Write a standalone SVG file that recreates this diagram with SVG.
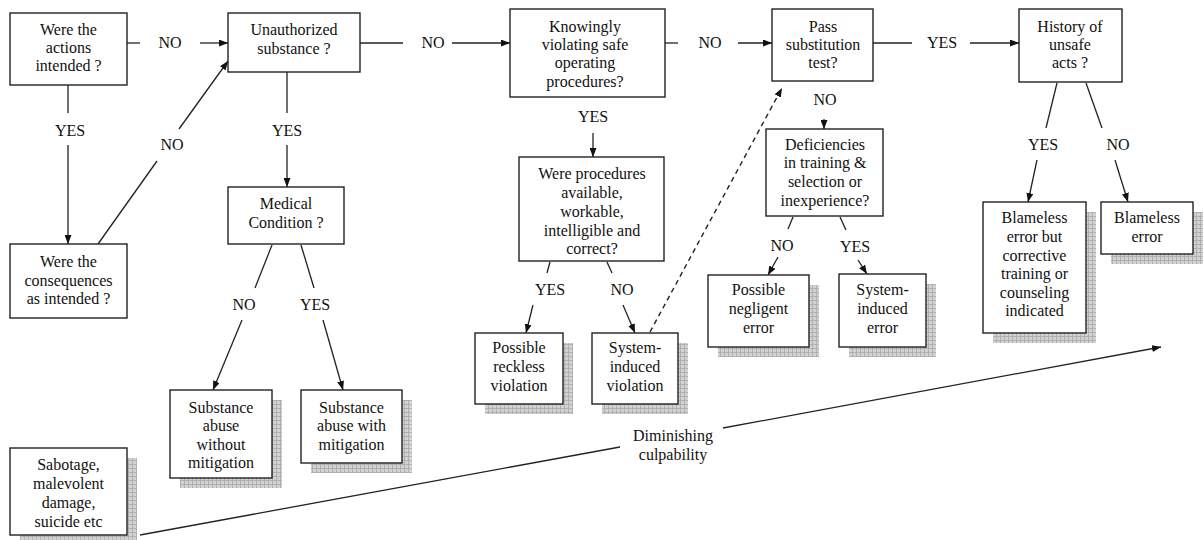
<svg xmlns="http://www.w3.org/2000/svg" width="1203" height="540" viewBox="0 0 1203 540">
<defs>
<pattern id="grid" width="4" height="4" patternUnits="userSpaceOnUse">
<rect width="4" height="4" fill="#d2d2d2"/>
<path d="M0 0.5H4M0.5 0V4" stroke="#a9a9a9" stroke-width="0.8"/>
</pattern>
<marker id="arr" viewBox="0 0 9 7" refX="9" refY="3.5" markerWidth="9" markerHeight="7" markerUnits="userSpaceOnUse" orient="auto">
<path d="M0,0 L9,3.5 L0,7 z" fill="#111"/>
</marker>
</defs>
<style>
text{font-family:'Liberation Serif','Tinos','Noto Serif','Nimbus Roman','Nimbus Roman No9 L','FreeSerif','Times New Roman','Times','DejaVu Serif','Georgia',serif;font-size:16px;fill:#111;text-anchor:middle}
.box{fill:#fff;stroke:#222;stroke-width:1.4}
.sh{fill:url(#grid)}
.ln{fill:none;stroke:#222;stroke-width:1.3}
.ar{fill:none;stroke:#222;stroke-width:1.3;marker-end:url(#arr)}
.dash{fill:none;stroke:#222;stroke-width:1.4;stroke-dasharray:5,4;marker-end:url(#arr)}
</style>
<rect width="1203" height="540" fill="#fff"/>

<g id="connectors">
<line class="ln" x1="127" y1="43" x2="140" y2="43"/>
<line class="ar" x1="200" y1="43" x2="228" y2="43"/>
<text x="170" y="48">NO</text>
<line class="ln" x1="68" y1="85" x2="68" y2="113"/>
<line class="ar" x1="68" y1="145" x2="68" y2="244"/>
<text x="70" y="136">YES</text>
<line class="ln" x1="98" y1="244" x2="157" y2="161"/>
<line class="ar" x1="179" y1="129" x2="228" y2="61"/>
<text x="172" y="150">NO</text>
<line class="ln" x1="287" y1="72" x2="287" y2="113"/>
<line class="ar" x1="287" y1="145" x2="287" y2="187"/>
<text x="287" y="136">YES</text>
<line class="ln" x1="360" y1="43" x2="403" y2="43"/>
<line class="ar" x1="452" y1="43" x2="510" y2="43"/>
<text x="433" y="48">NO</text>
<line class="ln" x1="665" y1="43" x2="678" y2="43"/>
<line class="ar" x1="738" y1="43" x2="772" y2="43"/>
<text x="710" y="48">NO</text>
<line class="ln" x1="873" y1="43" x2="912" y2="43"/>
<line class="ar" x1="970" y1="43" x2="1019" y2="43"/>
<text x="942" y="48">YES</text>
<line class="ar" x1="593" y1="133" x2="593" y2="157"/>
<text x="593" y="122">YES</text>
<line class="ar" x1="824" y1="119" x2="824" y2="129"/>
<text x="825" y="105">NO</text>
<line class="ln" x1="272" y1="245" x2="255" y2="288"/>
<line class="ar" x1="242" y1="320" x2="213" y2="390"/>
<text x="244" y="310">NO</text>
<line class="ln" x1="301" y1="245" x2="314" y2="288"/>
<line class="ar" x1="323" y1="320" x2="343" y2="390"/>
<text x="315" y="310">YES</text>
<line class="ln" x1="550" y1="262" x2="547" y2="273"/>
<line class="ar" x1="533" y1="305" x2="526" y2="333"/>
<text x="550" y="295">YES</text>
<line class="ln" x1="607" y1="262" x2="612" y2="273"/>
<line class="ar" x1="623" y1="305" x2="635" y2="333"/>
<text x="622" y="295">NO</text>
<line class="dash" x1="650" y1="332" x2="782" y2="88"/>
<line class="ln" x1="793" y1="217" x2="788" y2="229"/>
<line class="ar" x1="778" y1="257" x2="768" y2="275"/>
<text x="782" y="251">NO</text>
<line class="ln" x1="840" y1="217" x2="846" y2="230"/>
<line class="ar" x1="858" y1="260" x2="867" y2="274"/>
<text x="855" y="252">YES</text>
<line class="ln" x1="1057" y1="83" x2="1046" y2="128"/>
<line class="ar" x1="1037" y1="160" x2="1028" y2="202"/>
<text x="1043" y="150">YES</text>
<line class="ln" x1="1086" y1="83" x2="1102" y2="128"/>
<line class="ar" x1="1115" y1="160" x2="1128" y2="202"/>
<text x="1118" y="150">NO</text>
<line class="ln" x1="140" y1="535" x2="620" y2="447"/>
<line class="ar" x1="723" y1="428" x2="1161" y2="347"/>
<text x="673" y="441">Diminishing</text>
<text x="673" y="460">culpability</text>
</g>

<g id="n_actions">
<rect class="box" x="10" y="13" width="117" height="72"/>
<text x="68.5" y="35">Were the</text>
<text x="68.5" y="53">actions</text>
<text x="68.5" y="71">intended ?</text>
</g>
<g id="n_unauthorized">
<rect class="box" x="228" y="13" width="132" height="59"/>
<text x="294" y="35">Unauthorized</text>
<text x="294" y="54">substance ?</text>
</g>
<g id="n_knowingly">
<rect class="box" x="510" y="9" width="155" height="88"/>
<text x="585" y="32">Knowingly</text>
<text x="585" y="50">violating safe</text>
<text x="585" y="68">operating</text>
<text x="585" y="87">procedures?</text>
</g>
<g id="n_pass">
<rect class="box" x="772" y="9" width="101" height="72"/>
<text x="823" y="32">Pass</text>
<text x="823" y="50">substitution</text>
<text x="823" y="68">test?</text>
</g>
<g id="n_history">
<rect class="box" x="1019" y="9" width="103" height="73"/>
<text x="1070" y="32">History of</text>
<text x="1070" y="50">unsafe</text>
<text x="1070" y="68">acts ?</text>
</g>
<g id="n_consequences">
<rect class="box" x="10" y="244" width="117" height="74"/>
<text x="68.5" y="267">Were the</text>
<text x="68.5" y="286">consequences</text>
<text x="68.5" y="304">as intended ?</text>
</g>
<g id="n_medical">
<rect class="box" x="228" y="187" width="116" height="57"/>
<text x="286" y="209">Medical</text>
<text x="286" y="228">Condition ?</text>
</g>
<g id="n_procedures">
<rect class="box" x="519" y="157" width="145" height="104"/>
<text x="592" y="179">Were procedures</text>
<text x="592" y="198">available,</text>
<text x="592" y="217">workable,</text>
<text x="592" y="236">intelligible and</text>
<text x="592" y="254">correct?</text>
</g>
<g id="n_deficiencies">
<rect class="box" x="766" y="129" width="117" height="87"/>
<text x="825" y="150">Deficiencies</text>
<text x="825" y="168">in training &amp;</text>
<text x="825" y="187">selection or</text>
<text x="825" y="206">inexperience?</text>
</g>
<g id="n_sabotage">
<rect class="sh" x="20" y="458" width="117" height="87"/>
<rect class="box" x="10" y="448" width="117" height="87"/>
<text x="68.5" y="470">Sabotage,</text>
<text x="68.5" y="489">malevolent</text>
<text x="68.5" y="508">damage,</text>
<text x="68.5" y="527">suicide etc</text>
</g>
<g id="n_abuse_without">
<rect class="sh" x="180" y="400" width="102" height="88"/>
<rect class="box" x="170" y="390" width="102" height="88"/>
<text x="221" y="413">Substance</text>
<text x="221" y="431">abuse</text>
<text x="221" y="450">without</text>
<text x="221" y="468">mitigation</text>
</g>
<g id="n_abuse_with">
<rect class="sh" x="311" y="400" width="101" height="73"/>
<rect class="box" x="301" y="390" width="101" height="73"/>
<text x="351.5" y="413">Substance</text>
<text x="351.5" y="431">abuse with</text>
<text x="351.5" y="450">mitigation</text>
</g>
<g id="n_reckless">
<rect class="sh" x="485" y="343" width="88" height="71"/>
<rect class="box" x="475" y="333" width="88" height="71"/>
<text x="519" y="353">Possible</text>
<text x="519" y="372">reckless</text>
<text x="519" y="391">violation</text>
</g>
<g id="n_sys_violation">
<rect class="sh" x="602" y="343" width="86" height="71"/>
<rect class="box" x="592" y="333" width="86" height="71"/>
<text x="635" y="353">System-</text>
<text x="635" y="372">induced</text>
<text x="635" y="391">violation</text>
</g>
<g id="n_negligent">
<rect class="sh" x="718" y="285" width="101" height="72"/>
<rect class="box" x="708" y="275" width="101" height="72"/>
<text x="758.5" y="295">Possible</text>
<text x="758.5" y="314">negligent</text>
<text x="758.5" y="333">error</text>
</g>
<g id="n_sys_error">
<rect class="sh" x="849" y="284" width="87" height="73"/>
<rect class="box" x="839" y="274" width="87" height="73"/>
<text x="882.5" y="295">System-</text>
<text x="882.5" y="314">induced</text>
<text x="882.5" y="333">error</text>
</g>
<g id="n_blameless_training">
<rect class="sh" x="993" y="212" width="103" height="131"/>
<rect class="box" x="983" y="202" width="103" height="131"/>
<text x="1034.5" y="223">Blameless</text>
<text x="1034.5" y="242">error but</text>
<text x="1034.5" y="261">corrective</text>
<text x="1034.5" y="279">training or</text>
<text x="1034.5" y="298">counseling</text>
<text x="1034.5" y="316">indicated</text>
</g>
<g id="n_blameless">
<rect class="sh" x="1111" y="212" width="92" height="52"/>
<rect class="box" x="1101" y="202" width="92" height="52"/>
<text x="1147" y="223">Blameless</text>
<text x="1147" y="242">error</text>
</g>
</svg>
